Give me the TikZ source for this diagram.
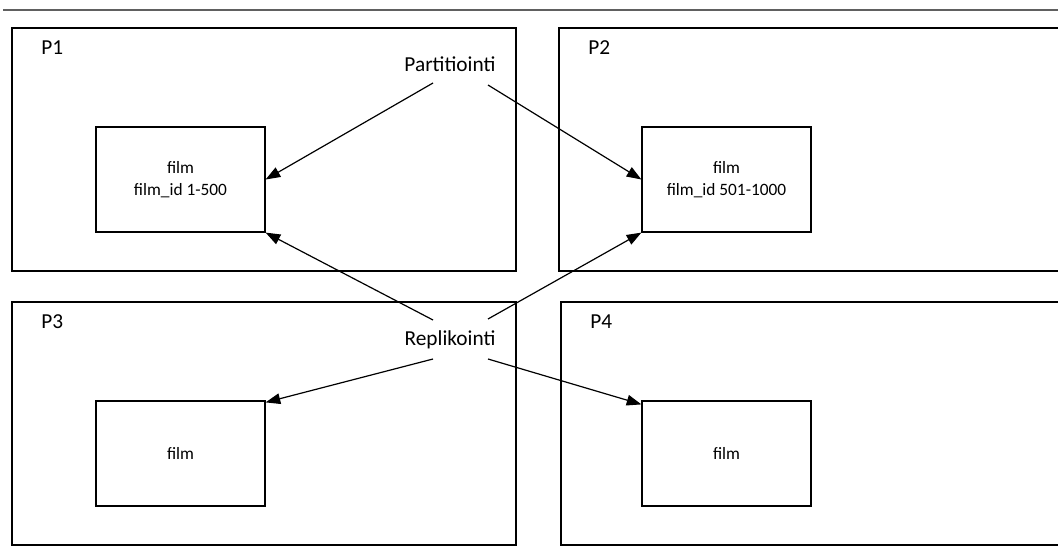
\documentclass[tikz,border=0pt]{standalone}
\usepackage{fontspec}
\setmainfont{Carlito}
\usetikzlibrary{arrows.meta}
\begin{document}
\begin{tikzpicture}[x=0.75pt,y=-0.75pt,
  partbox/.style={draw=black,line width=0.9pt,inner sep=0pt},
  tablebox/.style={draw=black,line width=0.9pt,minimum width=169*0.75pt,
    minimum height=105*0.75pt,align=center,inner sep=0pt,
    font=\fontsize{13}{17}\selectfont},
  lbl/.style={inner sep=0pt,font=\fontsize{16}{19}\selectfont},
  link/.style={line width=0.9pt,-{Triangle[length=11pt,width=8pt]}}]
\useasboundingbox (0,0) rectangle (1058,546);
\clip (0,0) rectangle (1058,546);

% rule across the top
\draw[gray!75!black,line width=0.9pt] (3,10) -- (1070,10);

% partitions
\node[partbox,minimum width=504*0.75pt,minimum height=243*0.75pt] (p1) at (264,149.5) {};
\node[partbox,minimum width=520*0.75pt,minimum height=243*0.75pt] (p2) at (819,149.5) {};
\node[partbox,minimum width=504*0.75pt,minimum height=243*0.75pt] (p3) at (264,423.5) {};
\node[partbox,minimum width=520*0.75pt,minimum height=243*0.75pt] (p4) at (821,423.5) {};

\node[lbl,anchor=west] (l1) at (41,48) {P1};
\node[lbl,anchor=west] (l2) at (588,48) {P2};
\node[lbl,anchor=west] (l3) at (41,322) {P3};
\node[lbl,anchor=west] (l4) at (590,322) {P4};

% tables
\node[tablebox] (f1) at (180.5,179.5) {film\\film\_id 1-500};
\node[tablebox] (f2) at (726.5,179.5) {film\\film\_id 501-1000};
\node[tablebox] (f3) at (180.5,453.5) {film};
\node[tablebox] (f4) at (726.5,453.5) {film};

% captions
\node[lbl] (part) at (450,64) {Partitiointi};
\node[lbl] (repl) at (450,340) {Replikointi};

% connector ends
\coordinate (pa) at (433,83);
\coordinate (pb) at (488,85);
\coordinate (ra) at (433,320);
\coordinate (rb) at (488,319);
\coordinate (rc) at (433,359);
\coordinate (rd) at (488,359);

\draw[link] (pa) -- (f1.east);
\draw[link] (pb) -- (f2.west);
\draw[link] (ra) -- (f1.south east);
\draw[link] (rb) -- (f2.south west);
\draw[link] (rc) -- ([yshift=-2*0.75pt]f3.north east);
\draw[link] (rd) -- ([yshift=-4*0.75pt]f4.north west);
\end{tikzpicture}
\end{document}
